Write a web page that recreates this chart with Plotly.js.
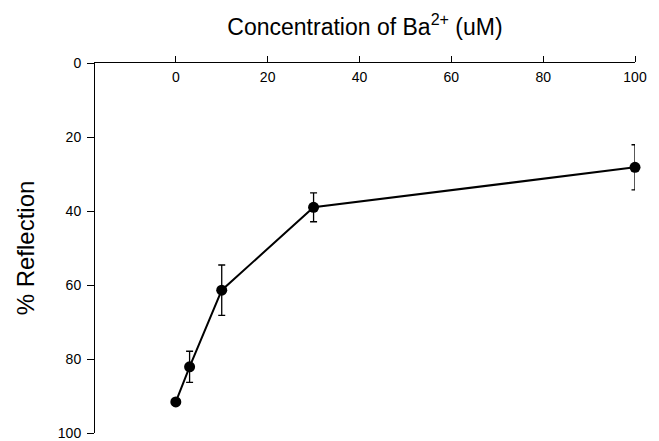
<!DOCTYPE html>
<html>
<head>
<meta charset="utf-8">
<script src="https://cdn.plot.ly/plotly-3.0.1.min.js"></script>
<style>html,body{margin:0;padding:0;background:#fff;}#chart{width:659px;height:441px;}</style>
</head>
<body>
<div id="chart"></div>
<script>
const concentration = [0, 3, 10, 30, 100];
const reflection = [91.6, 82.1, 61.4, 39.0, 28.2];
const errorValues = [0, 4.2, 6.8, 3.9, 6.1];
const xTicks = [0, 20, 40, 60, 80, 100];
const yTicks = [0, 20, 40, 60, 80, 100];

const trace = {
  x: concentration,
  y: reflection,
  type: 'scatter',
  mode: 'lines+markers',
  cliponaxis: false,
  line: {color: '#000', width: 2},
  marker: {color: '#000', size: 11},
  error_y: {type: 'data', array: errorValues, visible: true, color: '#000', thickness: 1.3, width: 3.5},
  showlegend: false
};

const layout = {
  width: 659,
  height: 441,
  margin: {l: 95, r: 24, t: 63, b: 8},
  paper_bgcolor: '#fff',
  plot_bgcolor: '#fff',
  font: {family: 'Liberation Sans, Arial, sans-serif', color: '#000'},
  xaxis: {
    side: 'top',
    range: [-17.6, 100],
    tickvals: xTicks,
    ticktext: xTicks.map(String),
    ticks: 'outside',
    ticklen: 6,
    tickcolor: '#000',
    tickwidth: 1,
    ticklabelstandoff: -32,
    showline: true,
    linecolor: '#000',
    linewidth: 1,
    showgrid: false,
    zeroline: false,
    tickfont: {size: 14, color: '#000'},
    title: {text: 'Concentration of Ba<sup>2+</sup> (uM)', font: {size: 23, color: '#000'}, standoff: 27}
  },
  yaxis: {
    range: [100, 0],
    tickvals: yTicks,
    ticktext: yTicks.map(String),
    ticks: 'outside',
    ticklen: 7,
    tickcolor: '#000',
    tickwidth: 1,
    ticklabelstandoff: 3,
    showline: true,
    linecolor: '#000',
    linewidth: 1,
    showgrid: false,
    zeroline: false,
    tickfont: {size: 14, color: '#000'},
    title: {text: '% Reflection', font: {size: 24, color: '#000'}, standoff: 16}
  }
};

Plotly.newPlot('chart', [trace], layout, {displayModeBar: false, staticPlot: true});
</script>
</body>
</html>
